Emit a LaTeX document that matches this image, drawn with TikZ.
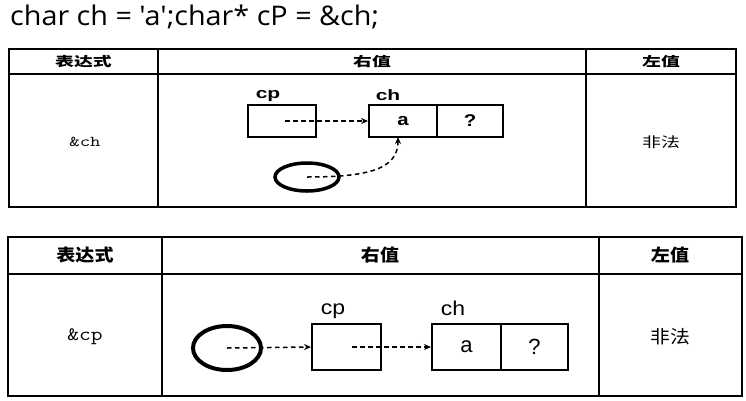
\documentclass[tikz,border=0pt]{standalone}
\usepackage{fontspec}
\setmainfont{Liberation Sans}
\newfontfamily\titlefont{Open Sans}
\newfontfamily\cjk{Noto Sans CJK SC}
\usetikzlibrary{shapes.geometric,arrows.meta}
\begin{document}
\begin{tikzpicture}[x=1pt,y=-1pt,
  tbl/.style={line width=1.4pt},
  cell/.style={draw,line width=1.9pt,rectangle,inner sep=0pt},
  oval/.style={draw,ellipse,inner sep=0pt},
  ptr/.style={dashed,dash pattern=on 4.5pt off 3.5pt,line width=1.5pt,-{Stealth[length=7pt,width=6pt]}},
  hdrA/.style={font=\cjk\bfseries\fontsize{13}{13}\selectfont,xscale=1.45},
  hdrB/.style={font=\cjk\bfseries\fontsize{17}{17}\selectfont,xscale=1.12},
  cjkA/.style={font=\cjk\fontsize{14}{14}\selectfont,xscale=1.35},
  cjkB/.style={font=\cjk\fontsize{18}{18}\selectfont,xscale=1.1},
  exprA/.style={font=\ttfamily\fontsize{15}{15}\selectfont,xscale=1.35},
  exprB/.style={font=\ttfamily\fontsize{19}{19}\selectfont,xscale=1.2},
  lblA/.style={anchor=base,font=\bfseries\fontsize{15}{15}\selectfont,xscale=1.4},
  lblB/.style={anchor=base,font=\fontsize{20}{20}\selectfont,xscale=1.15},
  valA/.style={font=\bfseries\fontsize{17}{17}\selectfont,xscale=1.2},
  valB/.style={font=\fontsize{22}{22}\selectfont}
]
\useasboundingbox (0,0) rectangle (746,400);
% title
\node[anchor=base west,inner sep=0pt,font=\titlefont\fontsize{27}{27}\selectfont,xscale=1.065] (title) at (10,25) {char ch = 'a';char* cP = \&ch;};

% ---------- top table ----------
\draw[tbl] (9,49) rectangle (736,207);
\draw[tbl] (9,74) -- (736,74);
\draw[tbl] (158,49) -- (158,207);
\draw[tbl] (586,49) -- (586,207);
\node[hdrA] (h1a) at (83.5,61.5) {表达式};
\node[hdrA] (h2a) at (372,61.5) {右值};
\node[hdrA] (h3a) at (661,61.5) {左值};
\node[exprA] (ea) at (85,142) {\&ch};
\node[cjkA] (la) at (661,142) {非法};

\node[cell,minimum width=68pt,minimum height=32pt] (cpA) at (282,121) {};
\node[cell,minimum width=68pt,minimum height=32pt] (chAa) at (403,121) {};
\node[cell,minimum width=66pt,minimum height=32pt] (chAq) at (470,121) {};
\node[valA] (va) at (chAa.center) {a};
\node[valA] (qa) at (chAq.center) {?};
\node[lblA] (lcpA) at (268,98) {cp};
\node[lblA] (lchA) at (388,100) {ch};
\node[oval,line width=3.5pt,minimum width=64pt,minimum height=28pt] (elA) at (307,177) {};
\coordinate (cpAs) at (285,121);
\coordinate (chAt) at (398,137);
\draw[ptr] (cpAs) -- (chAa.west);
\draw[ptr] (elA.center) .. controls +(62,0) and +(0,32) .. (chAt);

% ---------- bottom table ----------
\draw[tbl] (8,237) rectangle (742,396);
\draw[tbl] (8,274) -- (742,274);
\draw[tbl] (162,237) -- (162,396);
\draw[tbl] (599,237) -- (599,396);
\node[hdrB] (h1b) at (85,255.5) {表达式};
\node[hdrB] (h2b) at (380,255.5) {右值};
\node[hdrB] (h3b) at (670,255.5) {左值};
\node[exprB] (eb) at (85,337) {\&cp};
\node[cjkB] (lb) at (670,337) {非法};

\node[cell,minimum width=69pt,minimum height=46pt] (cpB) at (346.5,347) {};
\node[cell,minimum width=69pt,minimum height=46pt] (chBa) at (466.5,347) {};
\node[cell,minimum width=67pt,minimum height=46pt] (chBq) at (534.5,347) {};
\node[valB] (vb) at (chBa.center) {a};
\node[valB] (qb) at (chBq.center) {?};
\node[lblB] (lcpB) at (333,314) {cp};
\node[lblB] (lchB) at (453,315) {ch};
\node[oval,line width=4pt,minimum width=68pt,minimum height=44pt] (elB) at (227,348) {};
\coordinate (cpBs) at (352,347);
\draw[ptr] (elB.center) -- (cpB.west);
\draw[ptr] (cpBs) -- (chBa.west);
\end{tikzpicture}
\end{document}
